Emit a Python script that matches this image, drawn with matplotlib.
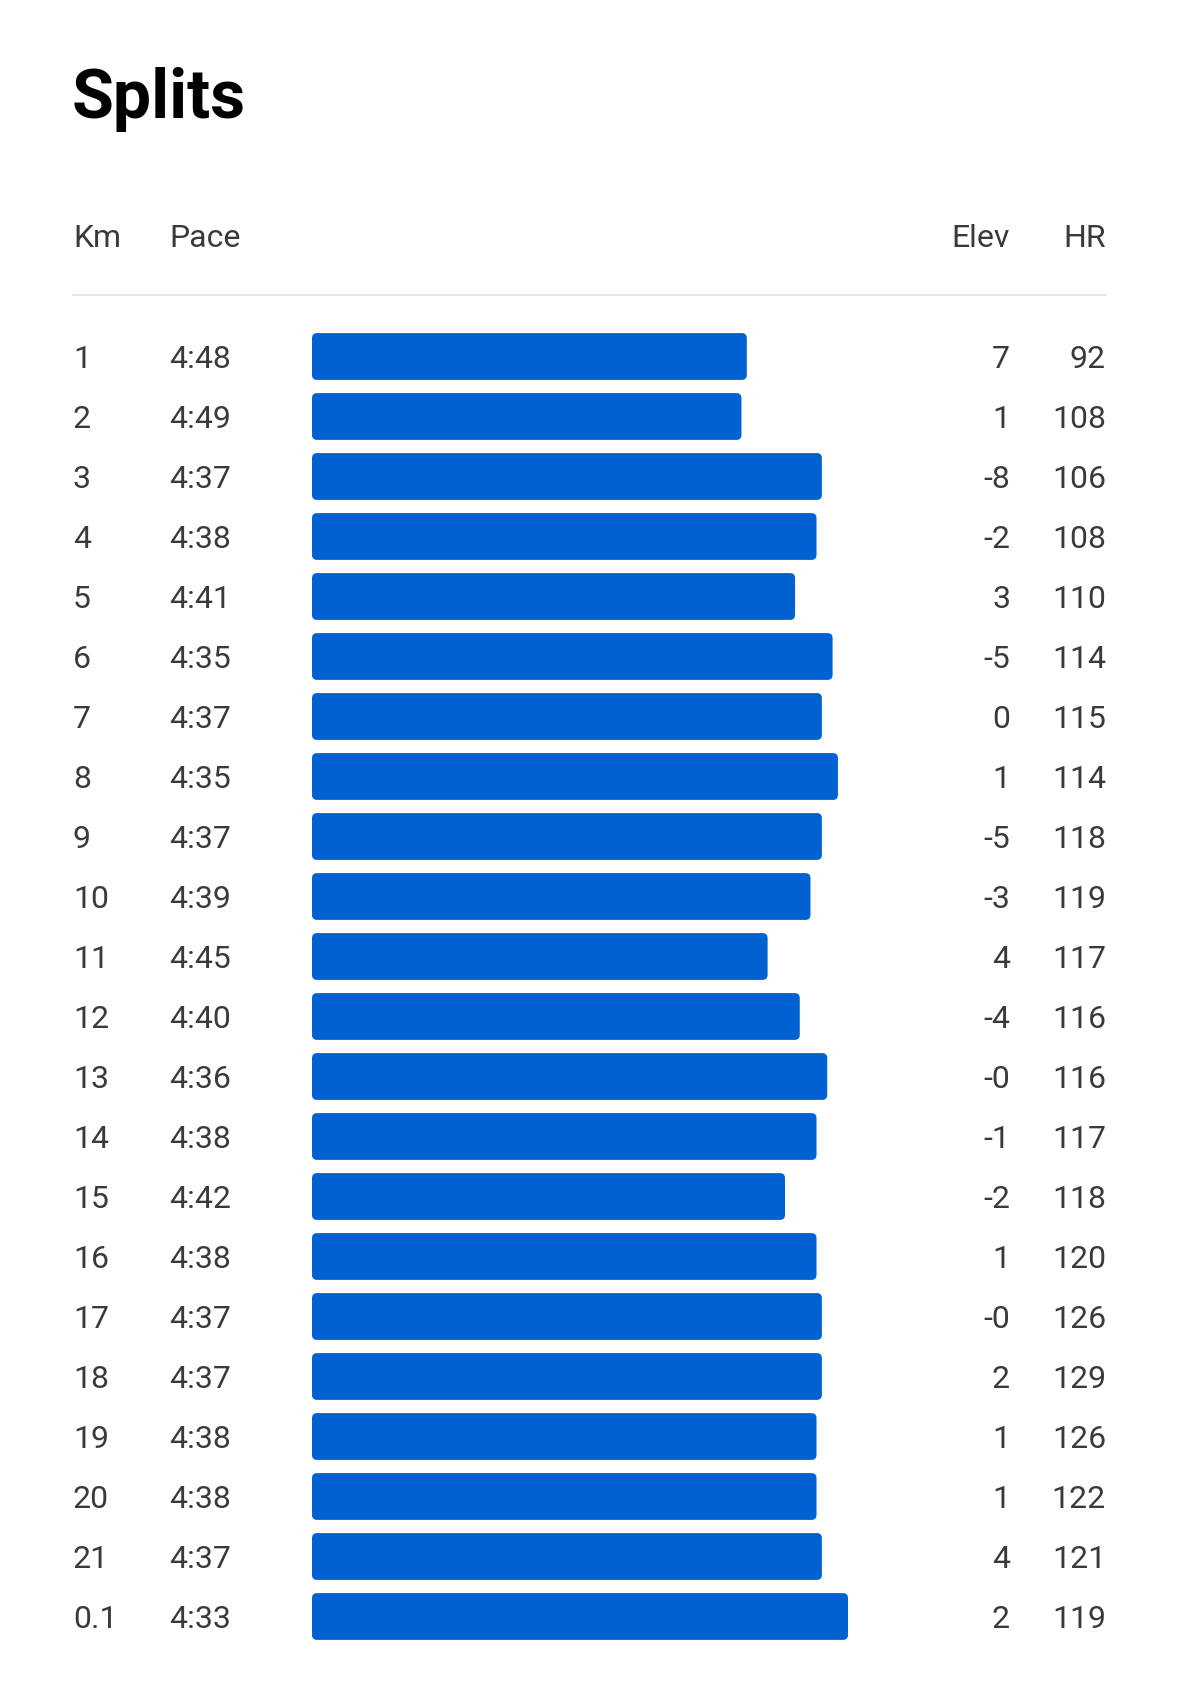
import matplotlib
matplotlib.use("Agg")
import matplotlib.pyplot as plt
from matplotlib.patches import FancyBboxPatch

# split data
km = ["1", "2", "3", "4", "5", "6", "7", "8", "9", "10", "11",
      "12", "13", "14", "15", "16", "17", "18", "19", "20", "21", "0.1"]
pace = ["4:48", "4:49", "4:37", "4:38", "4:41", "4:35", "4:37", "4:35", "4:37", "4:39", "4:45",
        "4:40", "4:36", "4:38", "4:42", "4:38", "4:37", "4:37", "4:38", "4:38", "4:37", "4:33"]
# unrounded pace in seconds per km
pace_sec = [288.1, 288.9, 276.9, 277.7, 280.9, 275.3, 276.9, 274.5, 276.9, 278.6, 285.0,
            280.2, 276.1, 277.7, 282.4, 277.7, 276.9, 276.9, 277.7, 277.7, 276.9, 273.0]
elev = ["7", "1", "-8", "-2", "3", "-5", "0", "1", "-5", "-3", "4",
        "-4", "-0", "-1", "-2", "1", "-0", "2", "1", "1", "4", "2"]
hr = [92, 108, 106, 108, 110, 114, 115, 114, 118, 119, 117,
      116, 116, 117, 118, 120, 126, 129, 126, 122, 121, 119]

W, H = 1179, 1689
BAR_COL = "#0062d1"
TXT_COL = "#3a3a3a"
FONT = ["Roboto", "DejaVu Sans"]

# pace axis of the bars: slow end at the bar base, fast end at the right
PACE_SLOW, PACE_FAST = 353, 273
BAR_X0, BAR_X1 = 312, 848
ROW0, PITCH = 356.5, 60
BAR_H = 0.78

n = len(km)

fig = plt.figure(figsize=(W / 100, H / 100), dpi=100)
fig.patch.set_facecolor("white")

# main layer in pixel coordinates for texts
ax = fig.add_axes([0, 0, 1, 1])
ax.set_xlim(0, W)
ax.set_ylim(H, 0)
ax.axis("off")

ax.text(72, 118, "Splits", fontsize=49, fontweight="bold", color="black",
        family=FONT, va="baseline", ha="left")

hy = 247
ax.text(73, hy, "Km", fontsize=23, color=TXT_COL, family=FONT, va="baseline", ha="left")
ax.text(169, hy, "Pace", fontsize=23, color=TXT_COL, family=FONT, va="baseline", ha="left")
ax.text(1010, hy, "Elev", fontsize=23, color=TXT_COL, family=FONT, va="baseline", ha="right")
ax.text(1106, hy, "HR", fontsize=23, color=TXT_COL, family=FONT, va="baseline", ha="right")
ax.plot([72, 1107], [295, 295], color="#dedede", lw=1.2, solid_capstyle="butt")

for i in range(n):
    yb = ROW0 + i * PITCH + 11.5
    ax.text(73, yb, km[i], fontsize=23, color=TXT_COL, family=FONT, va="baseline", ha="left")
    ax.text(169, yb, pace[i], fontsize=23, color=TXT_COL, family=FONT, va="baseline", ha="left")
    ax.text(1010, yb, elev[i], fontsize=23, color=TXT_COL, family=FONT, va="baseline", ha="right")
    ax.text(1106, yb, str(hr[i]), fontsize=23, color=TXT_COL, family=FONT, va="baseline", ha="right")

# bar layer
top_px = ROW0 - PITCH / 2
bot_px = ROW0 + (n - 1) * PITCH + PITCH / 2
axb = fig.add_axes([BAR_X0 / W, 1 - bot_px / H, (BAR_X1 - BAR_X0) / W, (bot_px - top_px) / H])
axb.set_xlim(PACE_SLOW, PACE_FAST)
axb.set_ylim(n - 0.5, -0.5)
axb.axis("off")

px_x = (BAR_X1 - BAR_X0) / (PACE_SLOW - PACE_FAST)  # px per second
px_y = PITCH                                         # px per row
r_px = 5
for i, s in enumerate(pace_sec):
    p = FancyBboxPatch((s, i - BAR_H / 2), PACE_SLOW - s, BAR_H,
                       boxstyle="round,pad=0,rounding_size=%f" % (r_px / px_x),
                       mutation_aspect=px_x / px_y,
                       facecolor=BAR_COL, edgecolor="none")
    axb.add_patch(p)

fig.savefig("out.png", dpi=100, facecolor="white")
